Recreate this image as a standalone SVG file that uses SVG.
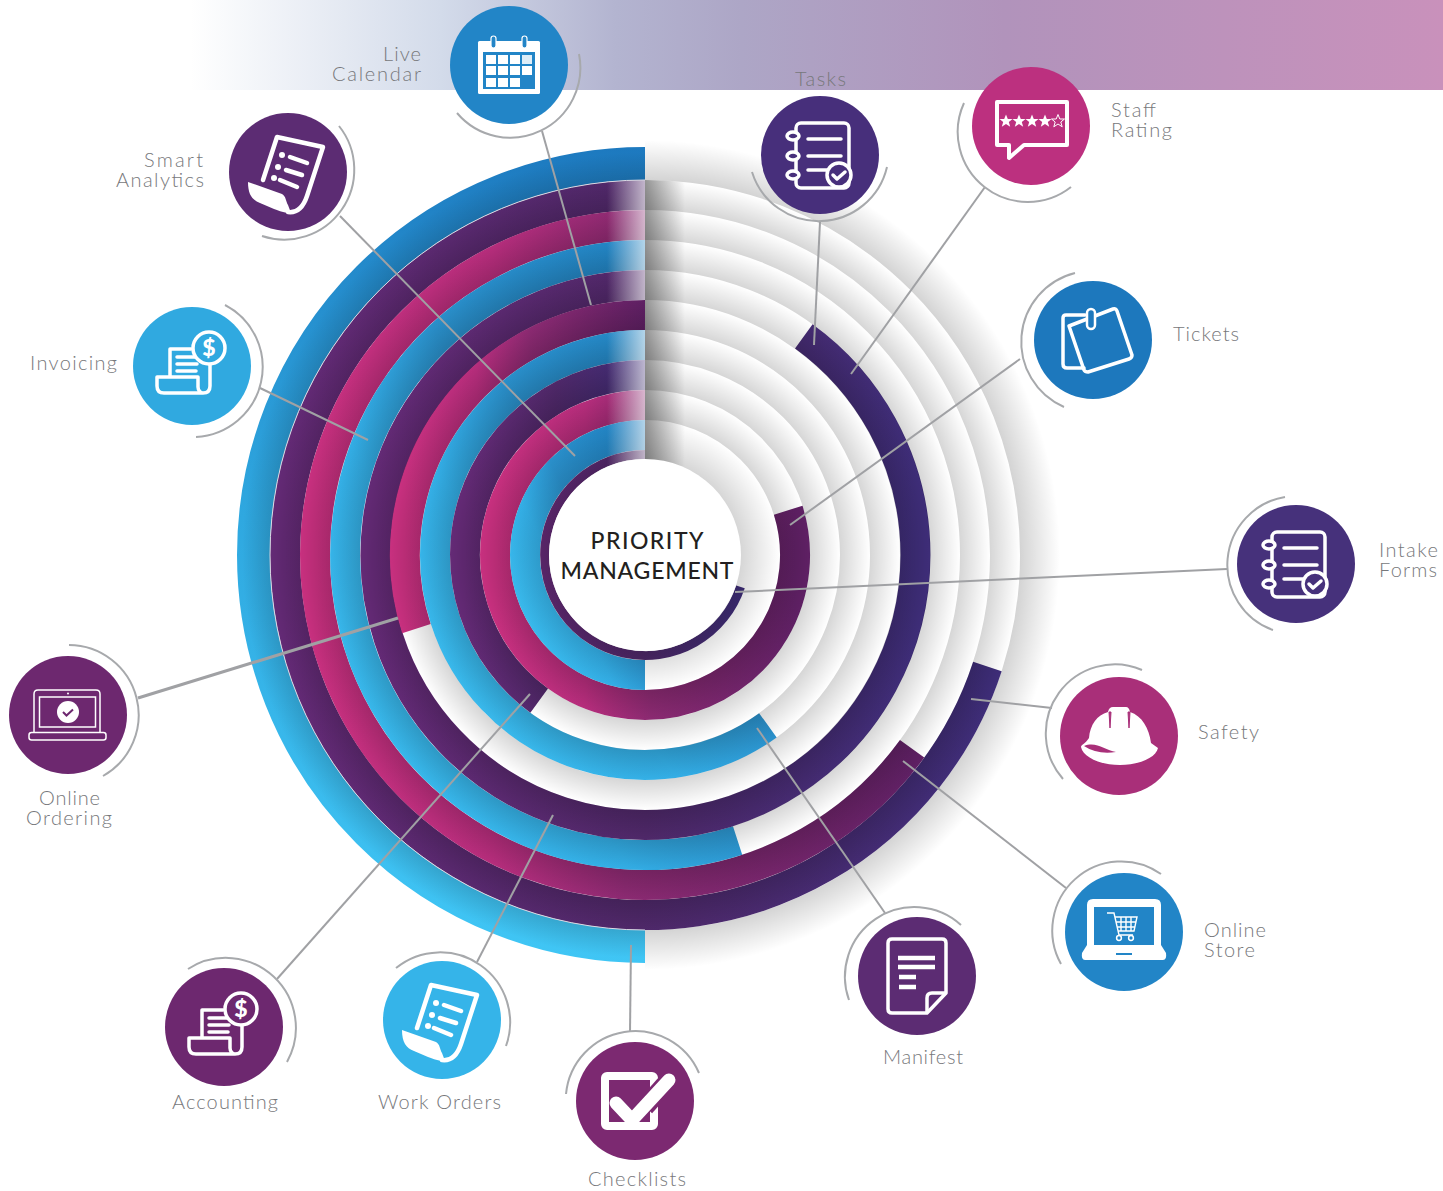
<svg xmlns="http://www.w3.org/2000/svg" xmlns:xlink="http://www.w3.org/1999/xlink" width="1443" height="1191" viewBox="0 0 1443 1191">
<style>
.lb{font-family:"Lato","Liberation Sans",sans-serif;font-weight:300;font-size:20px;fill:#77787b}
.hub{font-family:"Lato","Liberation Sans",sans-serif;font-weight:500;font-size:23px;fill:#231f20}
.band{fill:none}
.halo{fill:none;stroke:#a7a9ac;stroke-width:2}
.cn{fill:none;stroke:#a0a1a4;stroke-width:2}
.ico{fill:none;stroke:#fff;stroke-width:3.5;stroke-linecap:round;stroke-linejoin:round}
.w{fill:#fff;stroke:none}
</style>
<defs>
<linearGradient id="banner" gradientUnits="userSpaceOnUse" x1="190" y1="0" x2="1443" y2="0">
<stop offset="0" stop-color="#fff"/><stop offset=".2" stop-color="#d3dbea"/><stop offset=".34" stop-color="#b3b4d0"/><stop offset=".44" stop-color="#ada6c6"/><stop offset=".65" stop-color="#b193bb"/><stop offset="1" stop-color="#c991bb"/>
</linearGradient>
<linearGradient id="gOut" gradientUnits="userSpaceOnUse" x1="645" y1="147" x2="560" y2="963">
<stop offset="0" stop-color="#1d79bf"/><stop offset=".5" stop-color="#2fa8e0"/><stop offset="1" stop-color="#40c6f5"/>
</linearGradient>
<linearGradient id="gB" x1="0" y1="1" x2="1" y2="0">
<stop offset="0" stop-color="#3cc0f0"/><stop offset=".35" stop-color="#33aee6"/><stop offset=".55" stop-color="#2a90cb"/><stop offset="1" stop-color="#1f80c2"/>
</linearGradient>
<linearGradient id="gM" x1="0" y1="0" x2="1" y2="0">
<stop offset="0" stop-color="#c8307f"/><stop offset=".3" stop-color="#b62d7c"/><stop offset=".52" stop-color="#8c2a72"/><stop offset="1" stop-color="#5f2064"/>
</linearGradient>
<linearGradient id="gP" x1="0" y1="0" x2="1" y2="0">
<stop offset="0" stop-color="#642a76"/><stop offset=".5" stop-color="#4f2869"/><stop offset="1" stop-color="#3e2d78"/>
</linearGradient>
<linearGradient id="fade" gradientUnits="userSpaceOnUse" x1="607" y1="0" x2="645" y2="0">
<stop offset="0" stop-color="#fff" stop-opacity="0"/><stop offset="1" stop-color="#fff" stop-opacity=".66"/>
</linearGradient>
<linearGradient id="dark" gradientUnits="userSpaceOnUse" x1="645" y1="0" x2="685" y2="0">
<stop offset="0" stop-color="#000" stop-opacity=".42"/><stop offset="1" stop-color="#000" stop-opacity="0"/>
</linearGradient>
<radialGradient id="s0" gradientUnits="userSpaceOnUse" cx="645" cy="555" r="135"><stop offset=".711" stop-color="#000" stop-opacity=".16"/><stop offset="1" stop-color="#000" stop-opacity="0"/></radialGradient>
<radialGradient id="s1" gradientUnits="userSpaceOnUse" cx="645" cy="555" r="165"><stop offset=".818" stop-color="#000" stop-opacity=".16"/><stop offset="1" stop-color="#000" stop-opacity="0"/></radialGradient>
<radialGradient id="s2" gradientUnits="userSpaceOnUse" cx="645" cy="555" r="195"><stop offset=".846" stop-color="#000" stop-opacity=".16"/><stop offset="1" stop-color="#000" stop-opacity="0"/></radialGradient>
<radialGradient id="s3" gradientUnits="userSpaceOnUse" cx="645" cy="555" r="225"><stop offset=".867" stop-color="#000" stop-opacity=".16"/><stop offset="1" stop-color="#000" stop-opacity="0"/></radialGradient>
<radialGradient id="s4" gradientUnits="userSpaceOnUse" cx="645" cy="555" r="255"><stop offset=".882" stop-color="#000" stop-opacity=".16"/><stop offset="1" stop-color="#000" stop-opacity="0"/></radialGradient>
<radialGradient id="s5" gradientUnits="userSpaceOnUse" cx="645" cy="555" r="285"><stop offset=".895" stop-color="#000" stop-opacity=".16"/><stop offset="1" stop-color="#000" stop-opacity="0"/></radialGradient>
<radialGradient id="s6" gradientUnits="userSpaceOnUse" cx="645" cy="555" r="315"><stop offset=".905" stop-color="#000" stop-opacity=".16"/><stop offset="1" stop-color="#000" stop-opacity="0"/></radialGradient>
<radialGradient id="s7" gradientUnits="userSpaceOnUse" cx="645" cy="555" r="345"><stop offset=".913" stop-color="#000" stop-opacity=".16"/><stop offset="1" stop-color="#000" stop-opacity="0"/></radialGradient>
<radialGradient id="s8" gradientUnits="userSpaceOnUse" cx="645" cy="555" r="375"><stop offset=".92" stop-color="#000" stop-opacity=".16"/><stop offset="1" stop-color="#000" stop-opacity="0"/></radialGradient>
<radialGradient id="s9" gradientUnits="userSpaceOnUse" cx="645" cy="555" r="415"><stop offset=".9036" stop-color="#000" stop-opacity=".17"/><stop offset="1" stop-color="#000" stop-opacity="0"/></radialGradient>
<radialGradient id="s10" gradientUnits="userSpaceOnUse" cx="645" cy="555" r="403"><stop offset=".93" stop-color="#000" stop-opacity=".15"/><stop offset="1" stop-color="#000" stop-opacity="0"/></radialGradient>
<clipPath id="rightHalf"><rect x="645" y="100" width="460" height="900"/></clipPath>
<clipPath id="leftHalf"><rect x="200" y="100" width="445" height="900"/></clipPath>
<clipPath id="inner375"><circle cx="645" cy="555" r="375"/></clipPath>
<clipPath id="fadeBands"><path clip-rule="evenodd" d="M270,555a375,375 0 1 0 750,0a375,375 0 1 0 -750,0ZM390,555a255,255 0 1 0 510,0a255,255 0 1 0 -510,0Z"/><path d="M420,555a225,225 0 1 0 450,0a225,225 0 1 0 -450,0Z"/></clipPath>
<g id="notebook">
<rect class="ico" x="-24" y="-32" width="53" height="65" rx="5"/>
<path class="ico" d="M-12,-16H21M-12,1H21M-12,15H8"/>
<g fill="currentColor" stroke="#fff" stroke-width="3.5"><ellipse cx="-27" cy="-19" rx="6" ry="4"/><ellipse cx="-27" cy="1" rx="6" ry="4"/><ellipse cx="-27" cy="20" rx="6" ry="4"/><circle cx="19" cy="20" r="12"/></g>
<path class="ico" d="M13,20l4,4l8,-7"/>
</g>
<g id="scroll">
<path class="w" d="M-40,10L-6,22C-2,24-2,30 0,33L3,41C-4,41-8,39-14,37L-28,31C-36,28-40,22-40,10Z"/>
<path class="ico" style="stroke-width:4.5" d="M-25,8L-11,-35L35,-25L19,24C15,36 8,41 0,40"/>
<path class="ico" style="stroke-width:4.5" d="M2,-15L19,-9M-2,-2L14,3M-8,8L9,15"/>
<circle class="w" cx="-6" cy="-17" r="3"/><circle class="w" cx="-10" cy="-5" r="3"/><circle class="w" cx="-14" cy="6" r="3"/>
</g>
<g id="invoice">
<path class="ico" d="M-22,11V-17H-1M18,-2V20C18,25 15,27 11,27H-28C-33,27-35,24-35,20V11H6V21C6,25 9,27 11,27"/>
<path class="ico" d="M-15,-9H3M-15,-2H5M-15,5H4"/>
<circle cx="17" cy="-18" r="16" fill="currentColor" stroke="#fff" stroke-width="3.5"/>
<text x="17" y="-10" text-anchor="middle" font-family="Lato, 'Liberation Sans', sans-serif" font-weight="900" font-size="23" fill="#fff">$</text>
</g>
<polygon id="star" points="0,-6.5 1.8,-2 6.5,-2 2.8,1 4.2,5.8 0,3 -4.2,5.8 -2.8,1 -6.5,-2 -1.8,-2"/>
</defs>

<rect id="banner-band" x="190" y="0" width="1253" height="90" fill="url(#banner)"/>

<g id="rings">
<circle class="band" cx="645" cy="555" r="395" stroke="url(#s9)" stroke-width="40" clip-path="url(#rightHalf)"/>
<path class="band" stroke="url(#gOut)" stroke-width="33" d="M645,163.5A391.5,391.5 0 0 0 645,946.5"/>
<path class="band" stroke="url(#gP)" stroke-width="30" d="M645,195A360,360 0 1 0 987.4,666.5"/>
<path class="band" stroke="url(#gM)" stroke-width="30" d="M645,225A330,330 0 1 0 912.1,748.8"/>
<path class="band" stroke="url(#gB)" stroke-width="30" d="M645,255A300,300 0 1 0 737.6,840.4"/>
<path class="band" stroke="url(#gP)" stroke-width="30" d="M645,285A270,270 0 1 0 803.8,336.3"/>
<path class="band" stroke="url(#gM)" stroke-width="30" d="M645,315A240,240 0 0 0 416.4,628.7"/>
<path class="band" stroke="url(#gB)" stroke-width="30" d="M645,345A210,210 0 1 0 767.9,725.3"/>
<path class="band" stroke="url(#gP)" stroke-width="30" d="M645,375A180,180 0 0 0 539.2,700.6"/>
<path class="band" stroke="url(#gM)" stroke-width="30" d="M645,405A150,150 0 1 0 788.2,510.2"/>
<path class="band" stroke="url(#gB)" stroke-width="30" d="M645,435A120,120 0 0 0 645,675"/>
<path class="band" stroke="url(#gP)" stroke-width="9" d="M645,454.5A100.5,100.5 0 1 0 740.5,586.8"/>
<circle class="band" cx="645" cy="555" r="391.5" stroke="url(#s10)" stroke-width="33" clip-path="url(#leftHalf)"/>
<circle class="band" cx="645" cy="555" r="360" stroke="url(#s8)" stroke-width="30"/>
<circle class="band" cx="645" cy="555" r="330" stroke="url(#s7)" stroke-width="30"/>
<circle class="band" cx="645" cy="555" r="300" stroke="url(#s6)" stroke-width="30"/>
<circle class="band" cx="645" cy="555" r="270" stroke="url(#s5)" stroke-width="30"/>
<circle class="band" cx="645" cy="555" r="240" stroke="url(#s4)" stroke-width="30"/>
<circle class="band" cx="645" cy="555" r="210" stroke="url(#s3)" stroke-width="30"/>
<circle class="band" cx="645" cy="555" r="180" stroke="url(#s2)" stroke-width="30"/>
<circle class="band" cx="645" cy="555" r="150" stroke="url(#s1)" stroke-width="30"/>
<circle class="band" cx="645" cy="555" r="115" stroke="url(#s0)" stroke-width="40"/>
<rect x="607" y="147" width="38" height="408" fill="url(#fade)" clip-path="url(#fadeBands)"/>
<rect x="645" y="147" width="40" height="408" fill="url(#dark)" clip-path="url(#inner375)"/>
<path d="M645,180A375,375 0 0 0 270,555A375,375 0 0 0 645,930" fill="none" stroke="#d9d9e3" stroke-width="1"/>
</g>

<g id="hub">
<circle cx="645" cy="555" r="96" fill="#fff"/>
<text class="hub" x="647" y="549" text-anchor="middle" textLength="113">PRIORITY</text>
<text class="hub" x="647" y="579" text-anchor="middle" textLength="173">MANAGEMENT</text>
</g>

<g id="connectors">
<line class="cn" x1="542" y1="131" x2="591" y2="305"/>
<line class="cn" x1="340" y1="216" x2="575" y2="456"/>
<line class="cn" x1="260" y1="388" x2="368" y2="440"/>
<line class="cn" style="stroke-width:3" x1="138" y1="698" x2="398" y2="618"/>
<line class="cn" x1="277" y1="979" x2="530" y2="694"/>
<line class="cn" x1="477" y1="962" x2="553" y2="815"/>
<line class="cn" x1="630" y1="1032" x2="631" y2="945"/>
<line class="cn" x1="885" y1="913" x2="757" y2="728"/>
<line class="cn" x1="1066" y1="888" x2="903" y2="761"/>
<line class="cn" x1="1052" y1="708" x2="971" y2="699"/>
<line class="cn" x1="1227" y1="569" x2="735" y2="592"/>
<line class="cn" x1="1020" y1="359" x2="790" y2="525"/>
<line class="cn" x1="985" y1="187" x2="851" y2="374"/>
<line class="cn" x1="820" y1="222" x2="814" y2="345"/>
</g>

<g id="node-live-calendar">
<path class="halo" d="M579,54A70,70 0 0 1 457,113"/>
<circle cx="509" cy="65" r="59" fill="#2285c7"/>
<rect class="w" x="478" y="41" width="62" height="53" rx="1.5"/>
<rect x="483" y="52" width="52" height="37" fill="#2285c7"/>
<g fill="#fff"><rect x="486" y="55" width="10" height="9"/><rect x="498" y="55" width="10" height="9"/><rect x="510" y="55" width="10" height="9"/><rect x="522" y="55" width="10" height="9" opacity=".85"/><rect x="486" y="66" width="10" height="9"/><rect x="498" y="66" width="10" height="9"/><rect x="510" y="66" width="10" height="9"/><rect x="522" y="66" width="10" height="9"/><rect x="486" y="78" width="10" height="9"/><rect x="498" y="78" width="10" height="9"/><rect x="510" y="78" width="10" height="9"/></g>
<rect x="491" y="36" width="5" height="12" rx="2.5" fill="#2285c7" stroke="#fff" stroke-width="1.2"/>
<rect x="522" y="36" width="5" height="12" rx="2.5" fill="#2285c7" stroke="#fff" stroke-width="1.2"/>
<text class="lb" x="421" y="61" text-anchor="end" textLength="38">Live</text>
<text class="lb" x="421" y="81" text-anchor="end" textLength="89">Calendar</text>
</g>

<g id="node-tasks" style="color:#472f7b">
<path class="halo" d="M887,167A70,70 0 0 1 752,172"/>
<circle cx="820" cy="155" r="59" fill="#472f7b"/>
<use xlink:href="#notebook" href="#notebook" transform="translate(820,155)"/>
<text class="lb" x="795" y="86" textLength="51">Tasks</text>
</g>

<g id="node-staff-rating">
<path class="halo" d="M1071,187A70,70 0 0 1 964,103"/>
<circle cx="1031" cy="126" r="59" fill="#bc307f"/>
<path class="ico" style="stroke-width:4" d="M997,102H1067V145H1024L1009,158V145H997Z"/>
<g fill="#fff"><use href="#star" xlink:href="#star" x="1006" y="121"/><use href="#star" xlink:href="#star" x="1019" y="121"/><use href="#star" xlink:href="#star" x="1032" y="121"/><use href="#star" xlink:href="#star" x="1045" y="121"/><use href="#star" xlink:href="#star" x="1058" y="121" fill="#bc307f" stroke="#fff" stroke-width="1"/></g>
<text class="lb" x="1111" y="117" textLength="45">Staff</text>
<text class="lb" x="1111" y="137" textLength="61">Rating</text>
</g>

<g id="node-tickets">
<path class="halo" d="M1064,407A71,71 0 0 1 1075,273"/>
<circle cx="1093" cy="340" r="59" fill="#1d78bd"/>
<path class="ico" d="M1085,315H1066Q1063,315 1063,318V364Q1063,368 1067,368H1084"/>
<path class="ico" d="M1069,326L1113,309Q1116,308 1117,311L1132,355Q1132,358 1129,359L1088,372Q1085,372 1084,370Z"/>
<rect x="1087" y="309" width="8" height="20" rx="4" fill="#1d78bd" stroke="#fff" stroke-width="2.5"/>
<text class="lb" x="1173" y="341" textLength="66">Tickets</text>
</g>

<g id="node-intake-forms" style="color:#46317b">
<path class="halo" d="M1273,630A69,69 0 0 1 1285,497"/>
<circle cx="1296" cy="564" r="59" fill="#46317b"/>
<use xlink:href="#notebook" href="#notebook" transform="translate(1296,564)"/>
<text class="lb" x="1379" y="557" textLength="59">Intake</text>
<text class="lb" x="1379" y="577" textLength="58">Forms</text>
</g>

<g id="node-safety">
<path class="halo" d="M1063,779A69,69 0 0 1 1142,670"/>
<circle cx="1119" cy="736" r="59" fill="#a92f79"/>
<path class="w" d="M1089,738C1090,725 1097,715 1108,712Q1109,707 1113,707H1126Q1129,707 1130,712C1142,716 1149,728 1151,743L1158,748C1156,758 1138,765 1120,765C1100,765 1083,757 1081,747C1081,745 1085,744 1089,738Z"/>
<path d="M1084,746C1096,741 1105,750 1116,752C1104,754 1093,752 1084,746Z" fill="#a92f79"/>
<path d="M1109,712L1110,728L1111,712ZM1128,712L1129,728L1130,712Z" fill="#a92f79" stroke="#a92f79" stroke-width="1"/>
<text class="lb" x="1198" y="739" textLength="61">Safety</text>
</g>

<g id="node-online-store">
<path class="halo" d="M1061,964A69,69 0 0 1 1161,874"/>
<circle cx="1124" cy="932" r="59" fill="#2285c7"/>
<path class="w" d="M1087,905Q1087,899 1093,899H1155Q1161,899 1161,905V945L1166,953Q1167,960 1163,960H1085Q1081,960 1082,953L1087,945Z"/>
<rect x="1094" y="907" width="60" height="38" fill="#2285c7"/>
<rect x="1116" y="953" width="16" height="2" fill="#2285c7"/>
<path d="M1107,913H1114L1119,935H1133M1115,917H1137L1134,931H1118M1116,922H1136M1117,927H1135M1121,917V931M1126,917V931M1131,917V931" fill="none" stroke="#fff" stroke-width="1.4"/>
<circle cx="1119" cy="938" r="2.4" fill="none" stroke="#fff" stroke-width="1.5"/><circle cx="1131" cy="938" r="2.4" fill="none" stroke="#fff" stroke-width="1.5"/>
<text class="lb" x="1204" y="937" textLength="62">Online</text>
<text class="lb" x="1204" y="957" textLength="51">Store</text>
</g>

<g id="node-manifest">
<path class="halo" d="M961,925A69.5,69.5 0 0 0 849,1000"/>
<circle cx="917" cy="976" r="59" fill="#5c2c73"/>
<path class="ico" d="M927,1013H892Q888,1013 888,1009V943Q888,939 892,939H942Q946,939 946,943V993Z"/>
<path class="ico" d="M927,1012V998Q927,993 932,993H945"/>
<path d="M898,958H935M898,967H935M899,977H916M899,987H916" stroke="#fff" stroke-width="4.5" fill="none"/>
<text class="lb" x="883" y="1064" textLength="80">Manifest</text>
</g>

<g id="node-checklists">
<path class="halo" d="M699,1073A69.5,69.5 0 0 0 566,1094"/>
<circle cx="635" cy="1101" r="59" fill="#7c2971"/>
<rect x="605" y="1076" width="49" height="50" rx="2" fill="none" stroke="#fff" stroke-width="8"/>
<path d="M645,1107L669,1080" fill="none" stroke="#7c2971" stroke-width="19"/>
<path d="M616,1103L632,1120L669,1080" fill="none" stroke="#fff" stroke-width="13" stroke-linecap="round" stroke-linejoin="round"/>
<text class="lb" x="588" y="1186" textLength="98">Checklists</text>
</g>

<g id="node-work-orders">
<path class="halo" d="M396,968A70,70 0 0 1 506,1046"/>
<circle cx="442" cy="1020" r="59" fill="#35b4e9"/>
<use xlink:href="#scroll" href="#scroll" transform="translate(442,1020)"/>
<text class="lb" x="378" y="1109" textLength="123">Work Orders</text>
</g>

<g id="node-accounting" style="color:#6d286f">
<path class="halo" d="M188,969A70,70 0 0 1 287,1062"/>
<circle cx="224" cy="1027" r="59" fill="#6d286f"/>
<use xlink:href="#invoice" href="#invoice" transform="translate(224,1027)"/>
<text class="lb" x="172" y="1109" textLength="106">Accounting</text>
</g>

<g id="node-online-ordering">
<path class="halo" d="M69,645A70,70 0 0 1 103,776"/>
<circle cx="68" cy="715" r="59" fill="#6d286f"/>
<g fill="none" stroke="#fff" stroke-width="1.5"><path d="M34,732V694Q34,690 38,690H96Q100,690 100,694V732"/><rect x="39.500" y="697" width="56" height="30"/><rect x="29" y="732.500" width="77" height="7.500" rx="2.500"/></g>
<circle cx="68" cy="712" r="11" fill="#fff"/>
<circle cx="68" cy="693.500" r="1" fill="#fff"/>
<path d="M63,712l3.500,3.500l6.500,-6" fill="none" stroke="#6d286f" stroke-width="2"/>
<text class="lb" x="39" y="805" textLength="61">Online</text>
<text class="lb" x="26" y="825" textLength="86">Ordering</text>
</g>

<g id="node-invoicing" style="color:#30a9e0">
<path class="halo" d="M225,305A70,70 0 0 1 196,437"/>
<circle cx="192" cy="366" r="59" fill="#30a9e0"/>
<use xlink:href="#invoice" href="#invoice" transform="translate(192,366)"/>
<text class="lb" x="30" y="370" textLength="87">Invoicing</text>
</g>

<g id="node-smart-analytics">
<path class="halo" d="M339,126A70,70 0 0 1 262,236"/>
<circle cx="288" cy="172" r="59" fill="#5c2c73"/>
<use xlink:href="#scroll" href="#scroll" transform="translate(288,172)"/>
<text class="lb" x="203" y="167" text-anchor="end" textLength="59">Smart</text>
<text class="lb" x="204" y="187" text-anchor="end" textLength="88">Analytics</text>
</g>
</svg>
